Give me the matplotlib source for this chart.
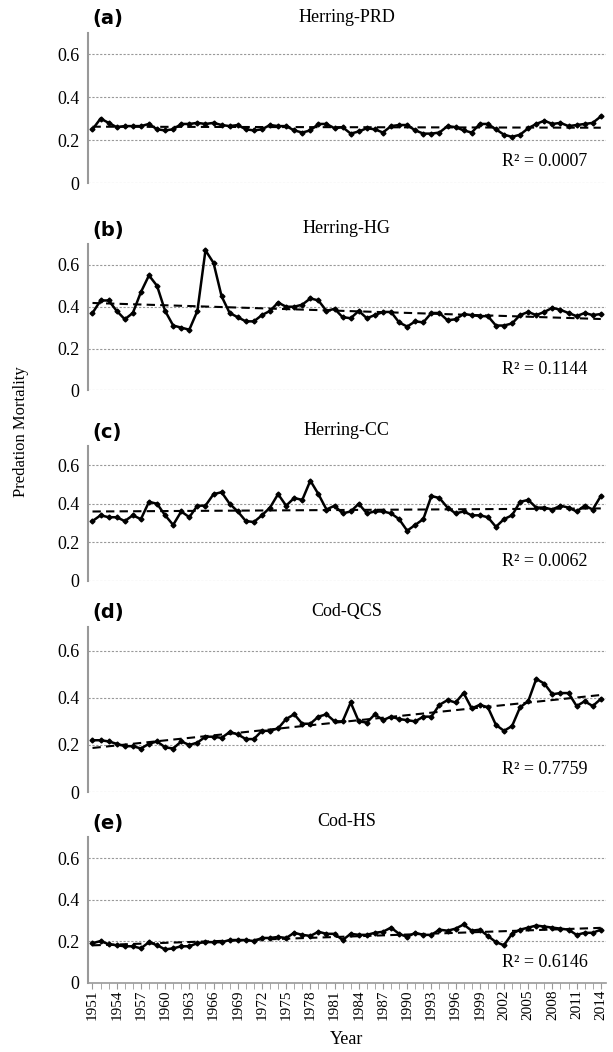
import matplotlib.pyplot as plt
import numpy as np

plt.rcParams['font.family'] = ['Liberation Serif', 'DejaVu Serif']

years = np.arange(1951, 2015)

herring_prd = [.25, .30, .28, .26, .265, .265, .265, .275, .25, .245,
               .25, .275, .275, .28, .275, .28, .27, .265, .27, .25,
               .245, .25, .27, .265, .265, .245, .235, .245, .275, .275,
               .255, .26, .23, .24, .255, .25, .235, .265, .27, .27,
               .245, .23, .23, .235, .265, .26, .245, .235, .275, .275,
               .25, .225, .215, .225, .255, .275, .29, .275, .28, .265,
               .27, .275, .28, .31]
herring_hg = [.37, .43, .43, .38, .34, .37, .47, .55, .50, .38,
              .31, .30, .29, .38, .67, .61, .45, .37, .35, .33,
              .33, .36, .38, .42, .40, .40, .41, .44, .43, .38,
              .39, .35, .345, .38, .345, .36, .375, .375, .325, .305,
              .33, .325, .37, .37, .335, .34, .365, .36, .355, .355,
              .31, .31, .32, .36, .375, .36, .375, .395, .385, .37,
              .355, .37, .36, .365]
herring_cc = [.31, .34, .33, .33, .31, .34, .32, .41, .40, .34,
              .29, .36, .33, .39, .39, .45, .46, .40, .36, .31,
              .305, .34, .38, .45, .39, .43, .42, .52, .45, .37,
              .39, .35, .36, .40, .35, .36, .36, .35, .32, .26,
              .29, .32, .44, .43, .38, .35, .36, .34, .34, .33,
              .28, .32, .34, .41, .42, .38, .38, .37, .39, .38,
              .36, .39, .37, .44]
cod_qcs = [.22, .22, .215, .205, .195, .195, .185, .205, .215, .19,
           .185, .215, .20, .21, .235, .235, .23, .255, .245, .225,
           .225, .26, .26, .27, .31, .33, .29, .29, .32, .33,
           .30, .30, .38, .30, .295, .33, .305, .32, .31, .305,
           .30, .32, .32, .37, .39, .38, .42, .355, .37, .36,
           .285, .26, .28, .36, .385, .48, .46, .415, .42, .42,
           .365, .385, .365, .395]
cod_hs = [.19, .20, .185, .18, .175, .175, .165, .195, .18, .16,
          .165, .175, .175, .19, .195, .195, .195, .205, .205, .205,
          .20, .215, .215, .22, .215, .24, .23, .225, .245, .235,
          .235, .205, .235, .23, .23, .24, .245, .265, .235, .22,
          .24, .23, .23, .255, .25, .26, .28, .25, .255, .225,
          .195, .18, .235, .255, .265, .275, .27, .265, .26, .255,
          .23, .24, .24, .255]

series = [herring_prd, herring_hg, herring_cc, cod_qcs, cod_hs]
titles = ['Herring-PRD', 'Herring-HG', 'Herring-CC', 'Cod-QCS', 'Cod-HS']
letters = ['a', 'b', 'c', 'd', 'e']
r2_text = ['0.0007', '0.1144', '0.0062', '0.7759', '0.6146']

# axes boxes in figure fractions (bottom, height)
boxes = [(0.826, 0.143), (0.629, 0.139), (0.448, 0.128), (0.247, 0.157), (0.066, 0.138)]

fig = plt.figure(figsize=(6.13, 10.52), dpi=100)
for i, (vals, (b, h)) in enumerate(zip(series, boxes)):
    ax = fig.add_axes([0.143, b, 0.845, h])
    vals = np.array(vals)
    ax.plot(years, vals, color='black', lw=1.8, marker='D', ms=2.5, zorder=3)
    k, c = np.polyfit(years, vals, 1)
    ax.plot(years, k * years + c, color='black', lw=1.5, ls=(0, (4, 2.5)), zorder=2)
    ax.set_xlim(1950.4, 2014.6)
    ax.set_ylim(0, 0.7)
    ax.set_yticks([0, 0.2, 0.4, 0.6])
    ax.set_yticklabels(['0', '0.2', '0.4', '0.6'], fontsize=13)
    ax.yaxis.grid(True, color='#999999', ls=(0, (2, 1.5)), lw=0.8)
    ax.set_axisbelow(True)
    for s in ['top', 'right', 'bottom']:
        ax.spines[s].set_visible(False)
    ax.spines['left'].set_color('#999999')
    ax.spines['left'].set_linewidth(1.5)
    ax.tick_params(axis='y', length=0, pad=6)
    ax.set_title(titles[i], fontsize=13, pad=8)
    ax.text(0.01, 1.03, f'({letters[i]})', transform=ax.transAxes, fontsize=14,
            fontweight='bold', family='DejaVu Sans', va='bottom')
    ax.text(0.965, 0.14, f'R² = {r2_text[i]}', transform=ax.transAxes, fontsize=13,
            ha='right', va='center')
    if i < 4:
        ax.tick_params(axis='x', bottom=False, labelbottom=False)
    else:
        ax.spines['bottom'].set_visible(True)
        ax.spines['bottom'].set_color('#999999')
        ax.spines['bottom'].set_linewidth(1.2)
        ax.set_xticks(years, minor=True)
        ax.set_xticks(years[::3])
        ax.set_xticklabels([str(y) for y in years[::3]], rotation=90, fontsize=11)
        ax.tick_params(axis='x', which='both', length=4, color='#999999', pad=1)

fig.text(0.565, 0.004, 'Year', ha='center', va='bottom', fontsize=13)
fig.text(0.022, 0.59, 'Predation Mortality', rotation=90, fontsize=12, va='center')
fig.savefig('out.png', dpi=100)
